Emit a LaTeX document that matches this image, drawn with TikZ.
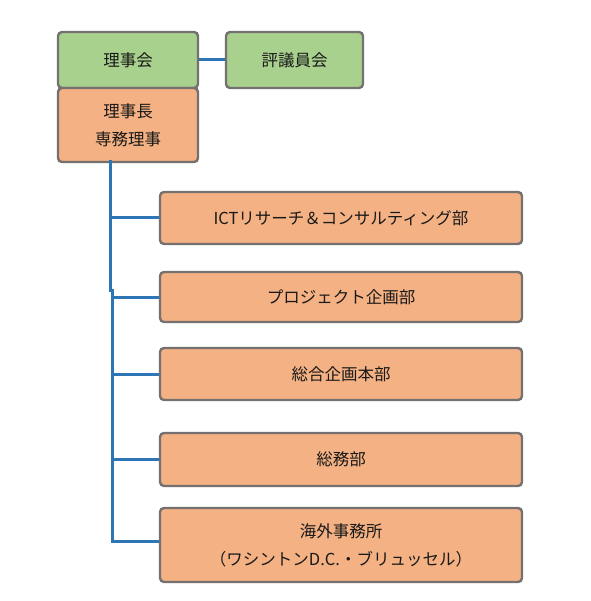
\documentclass[tikz,border=0pt]{standalone}
\usepackage{fontspec}
\setmainfont{Noto Sans CJK JP}
\begin{document}
\begin{tikzpicture}[x=1pt,y=-1pt,
  box/.style={draw=boxgray,line width=2.4pt,rounded corners=4pt,inner sep=0pt,align=center,font=\fontsize{16.5}{28}\selectfont,text=black!90},
  gbox/.style={box,fill=boxgreen},
  obox/.style={box,fill=boxorange},
  link/.style={draw=linkblue,line width=3pt}]
\definecolor{boxgray}{HTML}{767171}
\definecolor{boxgreen}{HTML}{A9D18E}
\definecolor{boxorange}{HTML}{F4B183}
\definecolor{linkblue}{HTML}{2E75B6}
\useasboundingbox (0,0) rectangle (590,601);
\fill[white] (0,0) rectangle (590,601);
\coordinate (t0) at (110,160);
\coordinate (t1) at (110,292);
\coordinate (t2) at (112,289);
\coordinate (t3) at (112,541);
\node[gbox,minimum width=140pt,minimum height=56pt] (board) at (128,60) {理事会};
\node[gbox,minimum width=137pt,minimum height=56pt] (council) at (294.5,60) {評議員会};
\node[obox,minimum width=140pt,minimum height=74pt] (boss) at (128,125) {理事長\\専務理事};
\node[obox,minimum width=362pt,minimum height=52pt] (d1) at (341,218) {ICTリサーチ＆コンサルティング部};
\node[obox,minimum width=362pt,minimum height=50pt] (d2) at (341,297) {プロジェクト企画部};
\node[obox,minimum width=362pt,minimum height=52pt] (d3) at (341,374) {総合企画本部};
\node[obox,minimum width=362pt,minimum height=53pt] (d4) at (341,459.5) {総務部};
\node[obox,minimum width=362pt,minimum height=74pt] (d5) at (341,545) {海外事務所\\（ワシントンD.C.・ブリュッセル）};
\draw[link] (board.east) -- (council.west);
\draw[link] (t0) -- (t1);
\draw[link] (t2) -- (t3);
\draw[link] (t0 |- d1.west) -- (d1.west);
\draw[link] (t2 |- d2.west) -- (d2.west);
\draw[link] (t2 |- d3.west) -- (d3.west);
\draw[link] (t2 |- d4.west) -- (d4.west);
\draw[link] ([xshift=-1.5pt]t3) -- (t3 -| d5.west);
\end{tikzpicture}
\end{document}
